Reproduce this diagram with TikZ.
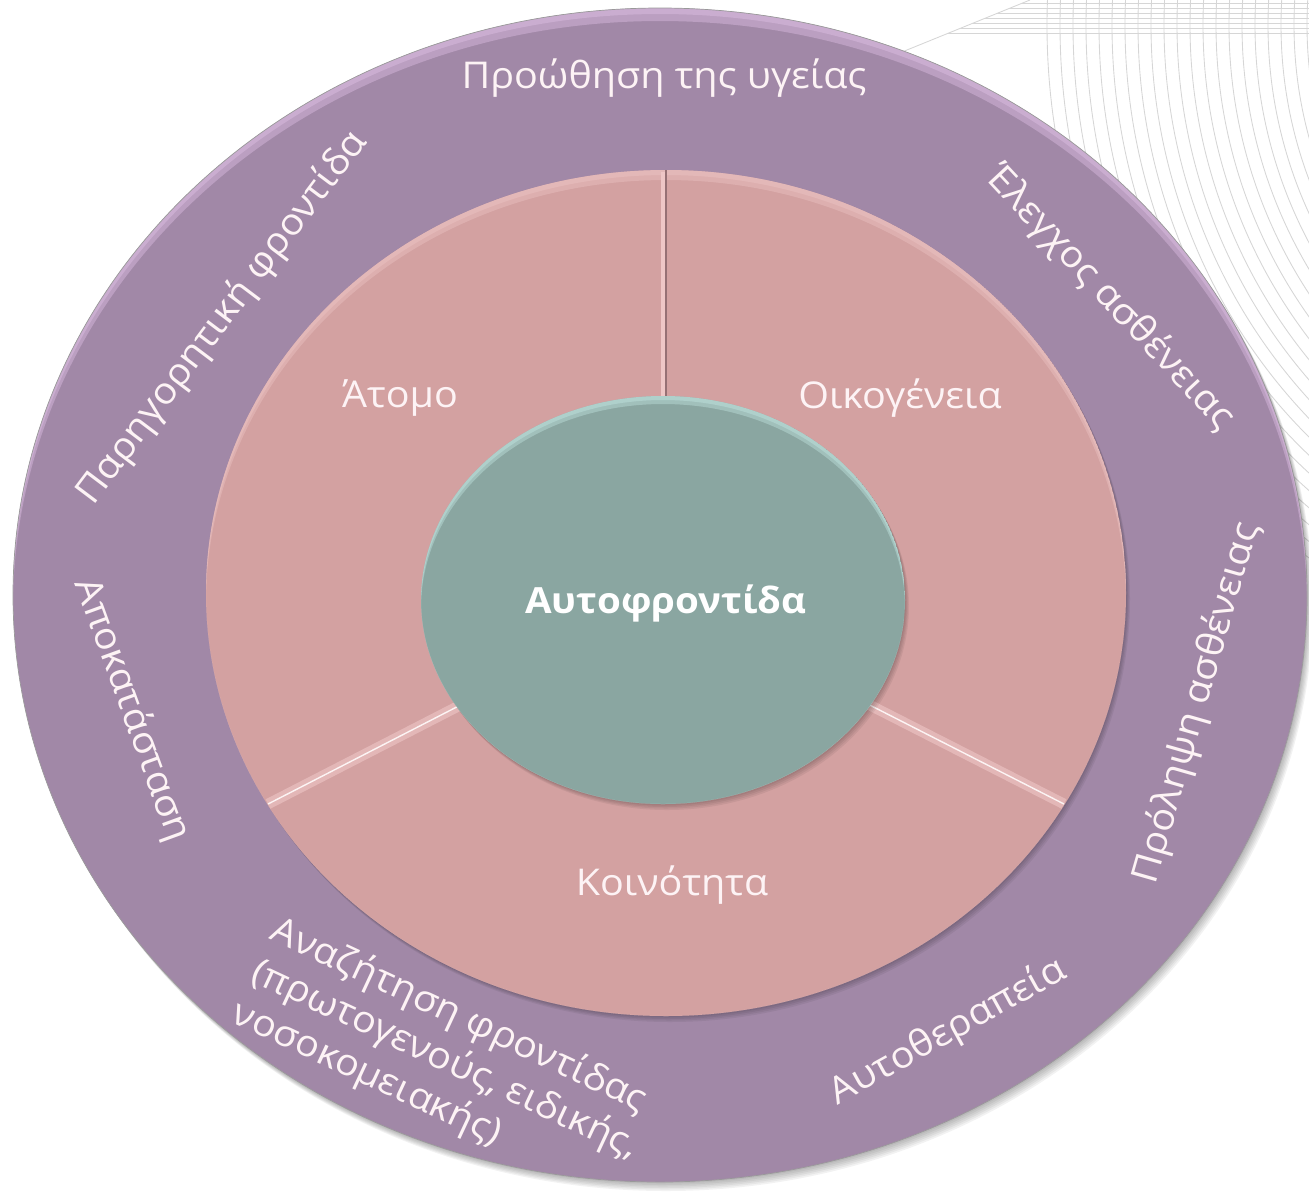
\documentclass[tikz,border=0pt]{standalone}
\usepackage{fontspec}
\setmainfont{Open Sans}[FakeStretch=1.07]
\definecolor{ringpurple}{RGB}{161,136,167}
\definecolor{ringlight}{RGB}{226,194,232}
\definecolor{sectorpink}{RGB}{211,161,161}
\definecolor{pinklight}{RGB}{238,198,198}
\definecolor{pinkdark}{RGB}{150,112,116}
\definecolor{coreteal}{RGB}{138,166,161}
\definecolor{teallight}{RGB}{196,232,228}
\definecolor{labeltext}{RGB}{253,243,245}
\tikzset{
  mesh/.style={black!16,line width=.5pt},
  rimlight/.style={opacity=.4,even odd rule},
  crease/.style={pinklight,line width=6pt,opacity=.6},
  ringlabel/.style={text=labeltext,font=\fontsize{21}{26}\selectfont,inner sep=0pt},
  sectorlabel/.style={ringlabel},
  corelabel/.style={text=white,font=\fontsize{20.5}{26}\selectfont\bfseries,inner sep=0pt}
}
\begin{document}
\begin{tikzpicture}[x=0.02cm,y=-0.02cm]
  \useasboundingbox (0,0) rectangle (1309,1191);

  % background mesh, top right
  \begin{scope}
    \clip (870,65) -- (1030,0) -- (1309,0) -- (1309,900) -- (870,900) -- cycle;
    \foreach \r in {400,413,...,680}
      \draw[mesh] (1720,25) circle[radius=\r];
    \foreach \y in {3,8,...,33}
      \draw[mesh] (870,\y) -- (1309,\y);
  \end{scope}
  \draw[mesh] (870,65) -- (1030,0);

  % outer ring
  \foreach \s in {1,...,6}
    \fill[black,opacity=.05] (660+\s,595+1.5*\s) ellipse[x radius=647,y radius=587];
  \fill[ringpurple] (660,595) ellipse[x radius=647,y radius=587];
  \begin{scope}
    \clip (660,595) ellipse[x radius=647,y radius=587];
    \foreach \d in {6,13}
      \fill[ringlight,rimlight] (660,595) ellipse[x radius=647,y radius=587]
        (660,595+\d) ellipse[x radius=647,y radius=587];
  \end{scope}
  \draw[black!40,line width=.4pt] (660,595) ellipse[x radius=647,y radius=587];

  % sectors
  \foreach \s in {1,...,4}
    \fill[black,opacity=.06] (666+\s,593+1.5*\s) ellipse[x radius=460,y radius=423];
  \fill[sectorpink] (666,593) ellipse[x radius=460,y radius=423];
  \begin{scope}
    \clip (666,593) ellipse[x radius=460,y radius=423];
    \foreach \d in {5,10}
      \fill[pinklight,rimlight] (666,593) ellipse[x radius=460,y radius=423]
        (666,593+\d) ellipse[x radius=460,y radius=423];
    \draw[crease] (268,804) -- (480,695);
    \draw[crease] (1064,804) -- (850,695);
  \end{scope}
  \draw[white!80!pinklight,line width=.8pt] (268,804) -- (480,695);
  \draw[white!80!pinklight,line width=.8pt] (1064,804) -- (850,695);
  \draw[pinklight,line width=2pt] (663,172) -- (663,420);
  \draw[pinkdark,line width=.8pt] (666,170) -- (666,420);

  % centre
  \foreach \s in {1,...,4}
    \fill[black,opacity=.06] (663+\s,600+1.5*\s) ellipse[x radius=242,y radius=204];
  \fill[coreteal] (663,600) ellipse[x radius=242,y radius=204];
  \begin{scope}
    \clip (663,600) ellipse[x radius=242,y radius=204];
    \foreach \d in {4,8}
      \fill[teallight,rimlight] (663,600) ellipse[x radius=242,y radius=204]
        (663,600+\d) ellipse[x radius=242,y radius=204];
  \end{scope}

  % labels
  \node[ringlabel] (promotion) at (664,78) {Προώθηση της υγείας};
  \node[ringlabel,rotate=53] (palliative) at (222,318) {Παρηγορητική φροντίδα};
  \node[ringlabel,rotate=-47] (control) at (1110,298) {Έλεγχος ασθένειας};
  \node[ringlabel,rotate=74] (prevention) at (1197,703) {Πρόληψη ασθένειας};
  \node[ringlabel,rotate=-70] (rehab) at (132,710) {Αποκατάσταση};
  \node[ringlabel,rotate=29] (selftreat) at (948,1032) {Αυτοθεραπεία};
  \node[ringlabel,rotate=-25,align=left] (seeking) at (445,1060)
    {Αναζήτηση φροντίδας\\(πρωτογενούς, ειδικής,\\νοσοκομειακής)};

  \node[sectorlabel] (person) at (400,398) {Άτομο};
  \node[sectorlabel] (family) at (900,398) {Οικογένεια};
  \node[sectorlabel] (community) at (672,885) {Κοινότητα};
  \node[corelabel] (selfcare) at (666,603) {Αυτοφροντίδα};
\end{tikzpicture}
\end{document}
